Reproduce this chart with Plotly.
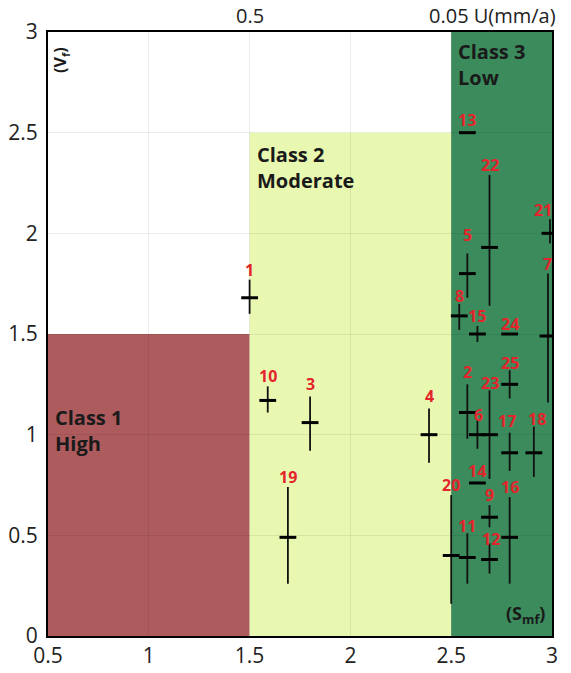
import plotly.graph_objects as go

# ---- data ----
ids    = ["1", "10", "3", "19", "4",
          "13", "22", "21", "5", "8", "15", "24", "7", "25", "2", "6", "23",
          "17", "18", "14", "9", "16", "20", "11", "12"]
smf    = [1.50, 1.59, 1.80, 1.69, 2.39,
          2.58, 2.69, 2.99, 2.58, 2.54, 2.63, 2.79, 2.98, 2.79, 2.58, 2.63, 2.69,
          2.79, 2.91, 2.63, 2.69, 2.79, 2.50, 2.58, 2.69]
vf     = [1.68, 1.17, 1.06, 0.49, 1.00,
          2.50, 1.93, 2.00, 1.80, 1.59, 1.50, 1.50, 1.49, 1.25, 1.11, 1.00, 1.00,
          0.91, 0.91, 0.76, 0.59, 0.49, 0.40, 0.39, 0.38]
err_up = [0.09, 0.07, 0.13, 0.25, 0.13,
          0.00, 0.36, 0.07, 0.10, 0.06, 0.04, 0.00, 0.31, 0.07, 0.14, 0.07, 0.22,
          0.10, 0.13, 0.00, 0.06, 0.20, 0.30, 0.12, 0.08]
err_dn = [0.08, 0.06, 0.14, 0.23, 0.14,
          0.00, 0.29, 0.05, 0.12, 0.07, 0.04, 0.00, 0.33, 0.07, 0.13, 0.07, 0.22,
          0.09, 0.12, 0.00, 0.05, 0.23, 0.24, 0.13, 0.07]

x_ticks = [0.5, 1, 1.5, 2, 2.5, 3]
y_ticks = [0, 0.5, 1, 1.5, 2, 2.5, 3]

# class regions
class_x0   = [0.5, 1.5, 2.5]
class_x1   = [1.5, 2.5, 3.0]
class_top  = [1.5, 2.5, 3.0]
class_name = ["Class 1<br>High", "Class 2<br>Moderate", "Class 3<br>Low"]

# ---- styles ----
class_fill = ["#AE5B5D", "#E8F8B1", "#3B8B5C"]
class_label_y = [1.02, 2.325, 2.84]
label_shift = {"5": (0, 18), "25": (0, 7), "6": (1, 6), "23": (0, 7), "21": (-7, 9),
               "8": (0, 8), "18": (3, 8), "17": (-3, 12), "11": (0, 7), "12": (1, 4),
               "2": (0, 12), "3": (0, 12), "4": (0, 12), "13": (0, 13), "14": (0, 12)}
FONT = "Open Sans"

fig = go.Figure()

shapes = []
for x0, x1, top, col in zip(class_x0, class_x1, class_top, class_fill):
    shapes.append(dict(type="rect", xref="x", yref="y", x0=x0, x1=x1, y0=0, y1=top,
                       fillcolor=col, line=dict(width=0), layer="below"))

fig.add_trace(go.Scatter(
    x=smf, y=vf, mode="markers",
    marker=dict(symbol="line-ew", size=12, color="black",
                line=dict(width=3, color="black")),
    error_y=dict(type="data", symmetric=False, array=err_up, arrayminus=err_dn,
                 width=0, thickness=1.8, color="#111111"),
    hoverinfo="skip", showlegend=False))

annotations = []
for i, x, y, up in zip(ids, smf, vf, err_up):
    dx, dy = label_shift.get(i, (0, 10))
    annotations.append(dict(x=x, y=y + up, xref="x", yref="y", text="<b>" + i + "</b>",
                            showarrow=False, xanchor="center", yanchor="middle",
                            xshift=dx, yshift=dy,
                            font=dict(family=FONT, size=16, color="#E3242B")))

for name, x0, ly in zip(class_name, class_x0, class_label_y):
    annotations.append(dict(x=x0, y=ly, xref="x", yref="y", text="<b>" + name + "</b>",
                            showarrow=False, xanchor="left", yanchor="middle", align="left",
                            xshift=5,
                            font=dict(family=FONT, size=20, color="#1A1A1A")))

annotations.append(dict(x=0.026, y=0.954, xref="paper", yref="paper",
                        text="<b>(V<sub>f</sub>)</b>", textangle=-90, showarrow=False,
                        xanchor="center", yanchor="middle",
                        font=dict(family=FONT, size=16, color="#1A1A1A")))
annotations.append(dict(x=0.99, y=0.01, xref="paper", yref="paper",
                        text="<b>(S<sub>mf</sub>)</b>", showarrow=False,
                        xanchor="right", yanchor="bottom",
                        font=dict(family=FONT, size=18, color="#1A1A1A")))

annotations.append(dict(x=1.5, y=1, xref="x", yref="paper", text="0.5", showarrow=False,
                        yanchor="bottom", yshift=1,
                        font=dict(family=FONT, size=20, color="#222222")))
annotations.append(dict(x=2.5, y=1, xref="x", yref="paper", text="0.05 U(mm/a)",
                        showarrow=False, xanchor="left", yanchor="bottom", xshift=-24,
                        yshift=1, font=dict(family=FONT, size=20, color="#222222")))

fig.update_layout(
    width=571, height=673,
    margin=dict(l=40, r=27, t=24, b=45),
    paper_bgcolor="white", plot_bgcolor="white",
    shapes=shapes, annotations=annotations,
    font=dict(family=FONT, size=21, color="#222222"),
    xaxis=dict(range=[0.5, 3], tickvals=x_ticks, ticktext=[str(v) for v in x_ticks],
               showgrid=True, gridcolor="rgba(0,0,0,0.07)", gridwidth=1,
               showline=True, linecolor="black", linewidth=2, mirror=True,
               ticks="", ticklabelstandoff=0, zeroline=False, fixedrange=True,
               automargin=False),
    yaxis=dict(range=[0, 3], tickvals=y_ticks, ticktext=[str(v) for v in y_ticks],
               showgrid=True, gridcolor="rgba(0,0,0,0.07)", gridwidth=1,
               showline=True, linecolor="black", linewidth=2, mirror=True,
               ticks="", ticklabelstandoff=4, zeroline=False, fixedrange=True,
               automargin=False),
)

fig.write_html("out.html")
